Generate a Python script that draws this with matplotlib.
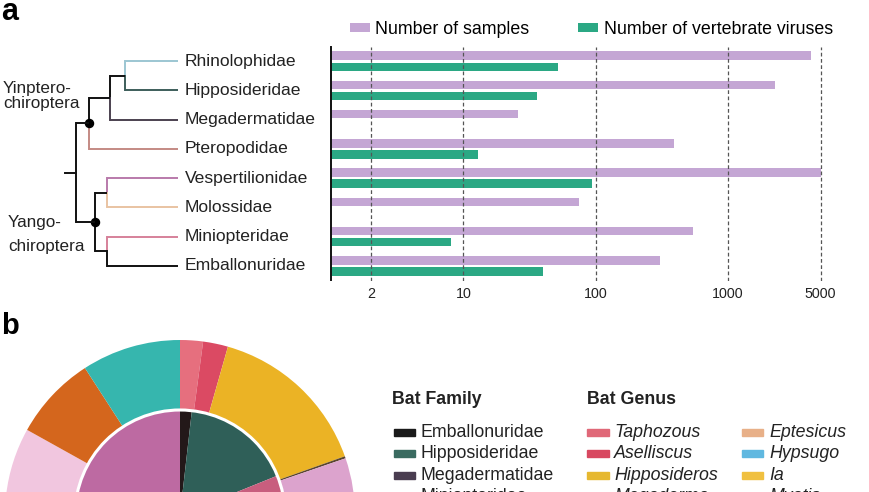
import numpy as np
import matplotlib
matplotlib.use("Agg")
import matplotlib.pyplot as plt
from matplotlib.patches import Rectangle, Circle
from matplotlib.ticker import NullLocator, FixedLocator, FixedFormatter

plt.rcParams['font.family'] = ['Liberation Sans', 'DejaVu Sans']

# ---------------- data ----------------
families = ["Rhinolophidae", "Hipposideridae", "Megadermatidae", "Pteropodidae",
            "Vespertilionidae", "Molossidae", "Miniopteridae", "Emballonuridae"]
n_samples = [4200, 2250, 26, 390, 5000, 75, 540, 305]
n_viruses = [52, 36, 0, 13, 94, 0, 8, 40]
x_ticks = [2, 10, 100, 1000, 5000]
x_ticklabels = ["2", "10", "100", "1000", "5000"]

leaf_colors = {"Rhinolophidae": "#9cc6d2", "Hipposideridae": "#3d5e5a",
               "Megadermatidae": "#4b4150", "Pteropodidae": "#c48a84",
               "Vespertilionidae": "#b97aab", "Molossidae": "#e9c3a2",
               "Miniopteridae": "#d6819a", "Emballonuridae": "#111111"}
# tree topology: (child_a, child_b)
tree = (((("Rhinolophidae", "Hipposideridae"), "Megadermatidae"), "Pteropodidae"),
        (("Vespertilionidae", "Molossidae"), ("Miniopteridae", "Emballonuridae")))

# panel b: sunburst (degrees, clockwise from top)
outer_labels = ["Taphozous", "Aselliscus", "Hipposideros", "Megaderma", "Miniopterus",
                "Eptesicus", "Hypsugo", "Ia", "Myotis", "Other", "Pipistrellus",
                "Scotophilus", "Tylonycteris"]
outer_sizes = [7.6, 8.3, 54.5, 0.7, 40, 25, 15, 22, 50, 31, 45, 28, 32.9]
outer_colors = ["#e66f7e", "#db4a63", "#ebb325", "#5a4530", "#dca3cd",
                "#e8b088", "#62b8e0", "#f0c040", "#9a9a9a", "#bbbbbb", "#f1c6df",
                "#d4661d", "#36b6ae"]
inner_labels = ["Emballonuridae", "Hipposideridae", "Miniopteridae", "Molossidae",
                "Pteropodidae", "Rhinolophidae", "Vespertilionidae"]
inner_sizes = [6.5, 61.5, 40, 30, 40, 62, 120]
inner_colors = ["#231819", "#2f5f58", "#c85e7e", "#e9c3a2", "#c48a84", "#9cc6d2", "#bd6aa2"]

fam_legend = ["Emballonuridae", "Hipposideridae", "Megadermatidae", "Miniopteridae"]
fam_legend_colors = ["#1a1a1a", "#3a6b60", "#4a3d50", "#c85e7e"]
genus_col2 = ["Taphozous", "Aselliscus", "Hipposideros", "Megaderma"]
genus_col2_colors = ["#e06878", "#d84860", "#e6b830", "#5a4530"]
genus_col3 = ["Eptesicus", "Hypsugo", "Ia", "Myotis"]
genus_col3_colors = ["#e8b088", "#60b8e0", "#f0c040", "#9a9a9a"]

PURPLE = "#c4a6d4"
GREEN = "#2ba884"

W, H = 870, 492
fig = plt.figure(figsize=(W / 100, H / 100), dpi=100)


def fx(x):
    return x / W


def fy(y):
    return 1 - y / H


# ---------------- panel a: bars ----------------
ax_top, ax_bot = 46.6, 280.5
ax = fig.add_axes([fx(331), fy(ax_bot), (826 - 331) / W, (ax_bot - ax_top) / H])
ypos = np.arange(len(families))
s = np.array(n_samples, dtype=float)
v = np.array(n_viruses, dtype=float)
b1 = ax.barh(ypos - 0.19, s, height=0.29, color=PURPLE, left=0, label="Number of samples")
mask = v > 0
b2 = ax.barh(ypos[mask] + 0.19, v[mask], height=0.29, color=GREEN, left=0,
             label="Number of vertebrate viruses")
ax.set_xscale('log')
ax.set_xlim(1, 5500)
ax.set_ylim(len(families) - 0.5, -0.5)
ax.xaxis.set_major_locator(FixedLocator(x_ticks))
ax.xaxis.set_major_formatter(FixedFormatter(x_ticklabels))
ax.xaxis.set_minor_locator(NullLocator())
ax.set_yticks([])
ax.tick_params(axis='x', length=0, pad=5, labelsize=10.3, colors='#222222')
ax.xaxis.grid(True, linestyle=(0, (3, 2)), color='#555555', linewidth=0.9)
for sp in ['top', 'right', 'bottom']:
    ax.spines[sp].set_visible(False)
ax.spines['left'].set_linewidth(1.4)
ax.spines['left'].set_color('#111111')

ax.legend(handles=[b1, b2], loc='center left', bbox_to_anchor=(fx(350), fy(29)),
          bbox_transform=fig.transFigure, ncol=2, frameon=False, fontsize=12.8,
          handlelength=1.1, handleheight=0.38, handletextpad=0.32, columnspacing=2.75,
          borderpad=0, borderaxespad=0)

# ---------------- panel a: tree ----------------
tax = fig.add_axes([0, fy(ax_bot), fx(331), (ax_bot - ax_top) / H])
tax.set_xlim(0, 331)
tax.set_ylim(len(families) - 0.5, -0.5)
tax.axis('off')

LEAF_X = 178
node_x = {}
# depth positions of internal nodes (pixel units of this axes)
depth_x = {0: 76, 1: 89, 2: 110, 3: 125}
yang_x = {1: 95, 2: 107}


def draw(node, depth, side):
    if isinstance(node, str):
        return families.index(node), LEAF_X, leaf_colors[node]
    if depth == 0:
        x = depth_x[0]
    elif side == 'yin':
        x = depth_x[depth]
    else:
        x = yang_x[depth]
    kids = []
    for i, child in enumerate(node):
        sd = side if depth > 0 else ('yin' if i == 0 else 'yang')
        kids.append(draw(child, depth + 1, sd))
    ymid = np.mean([k[0] for k in kids])
    for cy, cx, col in kids:
        tax.plot([x, cx], [cy, cy], color=col, lw=1.4, solid_capstyle='butt')
        tax.plot([x, x], [ymid, cy], color=col, lw=1.4, solid_capstyle='projecting')
    if depth == 1:
        tax.plot([x], [ymid], 'o', color='black', ms=5.8)
    return ymid, x, '#111111'


ry, rx, _ = draw(tree, 0, None)
tax.plot([65, rx], [ry, ry], color='#111111', lw=1.4)
for i, f in enumerate(families):
    tax.text(185, i, f, va='center', ha='left', fontsize=12.6, color='#222222')

fig.text(fx(3), fy(93), "Yinptero-", fontsize=12.3, color='#222222', va='baseline')
fig.text(fx(3), fy(108), "chiroptera", fontsize=12.3, color='#222222', va='baseline')
fig.text(fx(8), fy(227), "Yango-", fontsize=12.3, color='#222222', va='baseline')
fig.text(fx(8), fy(251), "chiroptera", fontsize=12.3, color='#222222', va='baseline')

fig.text(fx(1), fy(20), "a", fontsize=22, fontweight='bold', va='baseline')
fig.text(fx(1), fy(334), "b", fontsize=21, fontweight='bold', va='baseline')

# ---------------- panel b: sunburst ----------------
cx, cy, R = 180, 515, 175
pax = fig.add_axes([fx(cx - R), fy(cy + R), 2 * R / W, 2 * R / H])
pax.pie(outer_sizes, radius=1.0, colors=outer_colors, startangle=90, counterclock=False,
        wedgeprops=dict(width=0.4, edgecolor='none', linewidth=0))
pax.pie(inner_sizes, radius=0.6, colors=inner_colors, startangle=90, counterclock=False,
        wedgeprops=dict(edgecolor='none', linewidth=0))
pax.add_patch(Circle((0, 0), 0.6, fill=False, ec='white', lw=2.2))
pax.set_xlim(-1, 1)
pax.set_ylim(-1, 1)
pax.set_aspect('equal')
pax.axis('off')

# ---------------- panel b: legend ----------------
fig.text(fx(392), fy(399), "Bat Family", fontsize=12.8, fontweight='bold', va='center',
         color='#222222')
fig.text(fx(587), fy(399), "Bat Genus", fontsize=12.8, fontweight='bold', va='center',
         color='#222222')
row_y0, row_dy = 432.5, 21.4
cols = [(394, fam_legend, fam_legend_colors, 'normal'),
        (587, genus_col2, genus_col2_colors, 'italic'),
        (742, genus_col3, genus_col3_colors, 'italic')]
for x0, names, colors, style in cols:
    for i, (nm, c) in enumerate(zip(names, colors)):
        yc = row_y0 + i * row_dy
        fig.patches.append(Rectangle((fx(x0), fy(yc + 3.5)), 21.5 / W, 7 / H,
                                     transform=fig.transFigure, color=c))
        fig.text(fx(x0 + 27), fy(yc), nm, fontsize=12.8, style=style, va='center',
                 color='#222222')

fig.savefig("out.png", dpi=100)
